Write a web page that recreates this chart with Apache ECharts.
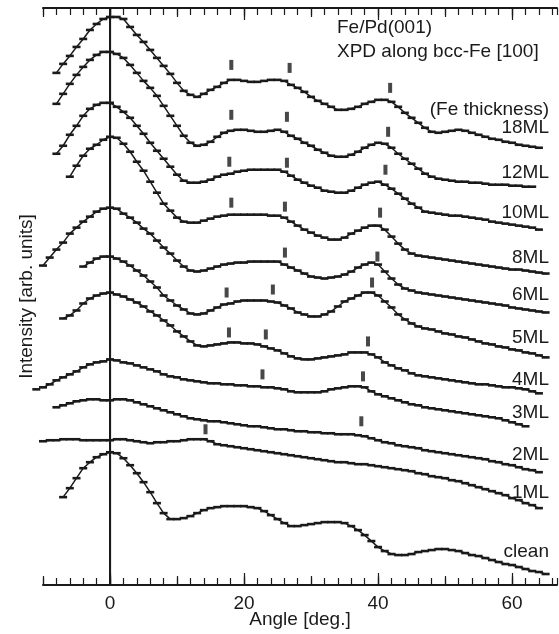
<!DOCTYPE html>
<html><head><meta charset="utf-8">
<script src="https://cdn.jsdelivr.net/npm/echarts@6/dist/echarts.min.js"></script>
<style>html,body{margin:0;padding:0;background:#fff}#c{width:559px;height:634px}</style>
</head><body><div id="c"></div>
<script>
// Angle grid (deg.)
const ANGLES = [-11,-10,-9,-8,-7,-6,-5,-4,-3,-2,-1,0,1,2,3,4,5,6,7,8,9,10,11,12,13,14,15,16,17,18,19,20,
  21,22,23,24,25,26,27,28,29,30,31,32,33,34,35,36,37,38,39,40,41,42,43,44,45,46,47,48,49,50,
  51,52,53,54,55,56,57,58,59,60,61,62,63,64,65];

// Intensities (arb. units, curves vertically offset) on the ANGLES grid
const ML18 = [null,null,null,
  513,522,530,539,547,556,562,567,569,569,567,559,551,544,536,528,520,512,503,495,
  491,489,492,496,499,503,506,506,505,504,504,505,506,506,505,501,498,494,489,485,
  482,479,476,476,477,479,482,484,486,486,484,479,473,468,463,458,454,453,454,455,
  456,455,453,451,449,447,446,444,443,441,440,439,438,null];
const ML12 = [null,null,null,
  482,492,502,511,519,526,531,534,534,532,528,521,513,505,498,490,480,470,460,450,
  443,440,441,444,449,453,455,456,456,455,454,454,455,456,454,450,447,443,440,436,
  433,430,429,429,431,434,438,441,443,442,438,432,427,422,417,412,409,407,406,405,
  404,404,403,403,402,401,401,401,400,400,399,399,null,null];
const ML10 = [null,null,null,
  432,440,451,460,470,477,481,483,483,479,474,468,460,452,443,435,427,419,411,405,
  403,403,404,406,409,411,412,414,415,416,416,416,416,416,414,410,406,403,400,398,
  395,394,393,393,395,398,401,403,404,401,397,392,387,382,378,374,373,372,371,370,
  370,369,368,367,366,364,363,362,361,360,359,358,356,null];
const ML8 = [null,null,null,null,null,
  409,420,430,437,441,446,449,448,442,434,424,415,404,393,382,375,368,364,363,363,
  365,367,369,370,371,371,371,371,371,371,370,370,368,364,360,356,353,350,348,346,
  346,348,352,355,358,360,360,356,349,342,336,332,330,329,328,327,326,325,324,323,
  322,321,320,319,318,317,316,316,315,314,313,312];
const ML6 = [null,
  320,328,336,343,352,358,364,369,374,377,378,377,372,368,363,357,352,345,338,332,
  325,319,315,314,315,317,319,321,322,323,323,324,324,324,324,324,321,318,315,312,
  309,308,307,308,309,311,314,318,321,323,321,314,307,301,297,295,293,292,291,290,
  289,288,287,286,285,284,283,282,281,280,278,277,276,275,274,273];
const ML5 = [null,null,null,null,null,null,null,
  319,323,327,329,329,327,324,320,315,310,304,298,290,285,280,276,272,271,272,275,
  278,281,282,284,285,285,285,285,284,283,280,277,273,271,269,269,271,274,279,284,
  287,290,293,293,290,284,278,271,266,262,259,257,256,254,252,251,249,248,246,244,
  242,241,239,238,236,235,233,232,230,228];
const ML4 = [null,null,null,null,
  267,270,275,282,287,290,292,293,291,289,286,283,279,274,270,265,260,254,249,244,
  240,239,240,241,242,243,243,242,242,241,239,237,235,232,229,227,226,226,227,228,
  229,230,231,233,233,233,231,228,223,220,217,215,212,210,209,208,207,206,205,204,
  203,202,201,201,200,199,198,198,197,196,194,192,null];
const ML3 = [
  196,198,201,205,208,211,214,218,221,223,224,226,225,223,222,220,218,216,214,211,
  209,208,206,205,204,203,202,202,201,201,200,200,199,199,198,198,197,196,194,193,
  193,193,193,194,196,197,198,199,199,198,194,191,189,187,185,183,181,180,178,177,
  176,175,174,173,172,171,170,169,168,167,165,163,161,159,null,null,null];
const ML2 = [null,null,null,
  178,180,182,184,185,186,186,185,185,186,186,185,183,181,179,177,175,173,171,169,
  167,166,165,164,164,163,162,161,160,159,159,158,157,156,156,155,154,154,153,153,
  152,152,151,151,151,150,149,147,145,143,142,140,139,138,137,135,134,133,132,131,
  130,129,128,127,126,124,123,121,120,118,116,115,113,null];
const ML1 = [null,
  144,145,145,146,146,146,145,145,145,145,145,146,146,145,144,143,142,143,143,144,
  144,145,146,146,146,144,141,140,139,138,137,136,135,134,133,132,131,130,129,128,
  127,126,125,124,123,123,122,121,121,120,119,118,117,116,115,114,112,111,109,108,
  107,105,104,102,100,98,96,94,92,90,87,85,82,80,77,null];
const CLEAN = [null,null,null,null,
  88,97,107,117,123,128,131,133,132,127,120,112,103,93,82,72,66,66,67,69,
  72,75,77,78,79,79,79,79,78,77,74,70,66,62,59,59,60,61,62,63,
  63,63,62,59,55,50,44,38,34,31,30,30,31,33,34,35,36,36,35,34,
  32,30,29,27,25,23,21,20,18,16,14,13,11];

const CURVES = [ML18, ML12, ML10, ML8, ML6, ML5, ML4, ML3, ML2, ML1, CLEAN];
const CURVE_NAMES = ['18ML','12ML','10ML','8ML','6ML','5ML','4ML','3ML','2ML','1ML','clean'];

// Feature markers (angle, intensity)
const MARK_ANGLE = [18.1,26.8,41.8, 18.1,26.4,41.5, 17.8,26.4,41.1, 18.1,26.1,40.3,
  26.1,39.9, 17.4,24.3,39.1, 17.75,23.25,38.5, 22.75,37.75, 37.5, 14.25];
const MARK_INTENSITY = [521,518,498, 471,469,454, 424,423,416, 383,379,373,
  333,329, 293,296,303, 253,251,244, 211,209, 164, 156];

const X_TICK_LABELS = [0, 20, 40, 60];

const FONT = '"Liberation Sans", Arial, sans-serif';
const INK = '#1a1a1a';

function toPairs(vals) {
  const out = [];
  ANGLES.forEach((a, i) => { if (vals[i] !== null) out.push([a, vals[i]]); });
  return out;
}

function xAxisDef(pos, len, opts) {
  const ax = {
    type: 'value', min: -10, max: 66.7, position: pos,
    axisLine: { show: !!opts.line, onZero: false, lineStyle: { color: INK, width: 2 } },
    axisTick: { show: true, inside: true, length: len, lineStyle: { color: INK, width: 1.2 } },
    axisLabel: { show: false },
    splitLine: { show: false },
    nameMoveOverlap: false
  };
  if (opts.interval) ax.interval = opts.interval;
  if (opts.custom) ax.axisTick.customValues = opts.custom;
  if (opts.labels) {
    ax.axisLabel = {
      show: true, margin: 9, fontSize: 19, color: INK, fontFamily: FONT,
      formatter: v => (X_TICK_LABELS.indexOf(v) >= 0 ? String(v) : '')
    };
    ax.name = 'Angle [deg.]';
    ax.nameLocation = 'middle';
    ax.nameGap = 25;
    ax.nameTextStyle = { fontSize: 19, color: INK, fontFamily: FONT };
  }
  return ax;
}

const tens = [-10, 0, 10, 20, 30, 40, 50, 60];
const twenties = [0, 20, 40, 60];

const series = CURVES.map((vals, k) => ({
  type: 'line', name: CURVE_NAMES[k], data: toPairs(vals),
  xAxisIndex: 0, yAxisIndex: 0,
  symbol: 'rect', symbolSize: [8, 2.6], showSymbol: true, showAllSymbol: true,
  lineStyle: { color: INK, width: 1.5 }, itemStyle: { color: INK },
  clip: false, silent: true, animation: false, z: 3
}));
series[0].markLine = {
  silent: true, symbol: ['none', 'none'], label: { show: false },
  lineStyle: { color: INK, width: 1.2, type: 'solid' },
  data: [{ xAxis: 0 }], animation: false
};
series.push({
  type: 'scatter', data: MARK_ANGLE.map((a, i) => [a, MARK_INTENSITY[i]]),
  symbol: 'rect', symbolSize: [4, 10], itemStyle: { color: INK },
  silent: true, animation: false, z: 4
});

const labelY = [128, 173, 213, 258, 295, 338, 380, 413, 455, 493, 552];
const txtStyle = (t, align) => ({ text: t, font: '19px ' + FONT, fill: INK, align: align, textAlign: align, verticalAlign: 'middle', textVerticalAlign: 'middle' });
const graphic = CURVE_NAMES.map((t, i) => ({ type: 'text', x: 549, y: labelY[i], z: 10, style: txtStyle(t, 'right') }));
graphic.push({ type: 'text', x: 549, y: 110, z: 10, style: txtStyle('(Fe thickness)', 'right') });
graphic.push({ type: 'text', x: 337, y: 28, z: 10, style: txtStyle('Fe/Pd(001)', 'left') });
graphic.push({ type: 'text', x: 337, y: 52, z: 10, style: txtStyle('XPD along bcc-Fe [100]', 'left') });

const chart = echarts.init(document.getElementById('c'));
chart.setOption({
  animation: false,
  backgroundColor: '#fff',
  grid: { left: 43, right: 2, top: 8, bottom: 49, containLabel: false, outerBoundsMode: 'none' },
  xAxis: [
    xAxisDef('bottom', 7, { line: true, interval: 2, labels: true }),
    xAxisDef('bottom', 9, { custom: tens }),
    xAxisDef('bottom', 12, { custom: twenties }),
    xAxisDef('top', 7, { line: true, interval: 2 }),
    xAxisDef('top', 9, { custom: tens }),
    xAxisDef('top', 12, { custom: twenties })
  ],
  yAxis: [
    { type: 'value', min: 0, max: 578, position: 'left',
      axisLine: { show: true, lineStyle: { color: INK, width: 2 } },
      axisTick: { show: false }, axisLabel: { show: false }, splitLine: { show: false },
      name: 'Intensity [arb. units]', nameLocation: 'middle', nameGap: 7, nameMoveOverlap: false,
      nameTextStyle: { fontSize: 19, color: INK, fontFamily: FONT } },
    { type: 'value', min: 0, max: 578, position: 'right',
      axisLine: { show: true, lineStyle: { color: INK, width: 2 } },
      axisTick: { show: false }, axisLabel: { show: false }, splitLine: { show: false } }
  ],
  series: series,
  graphic: graphic
});
</script></body></html>
